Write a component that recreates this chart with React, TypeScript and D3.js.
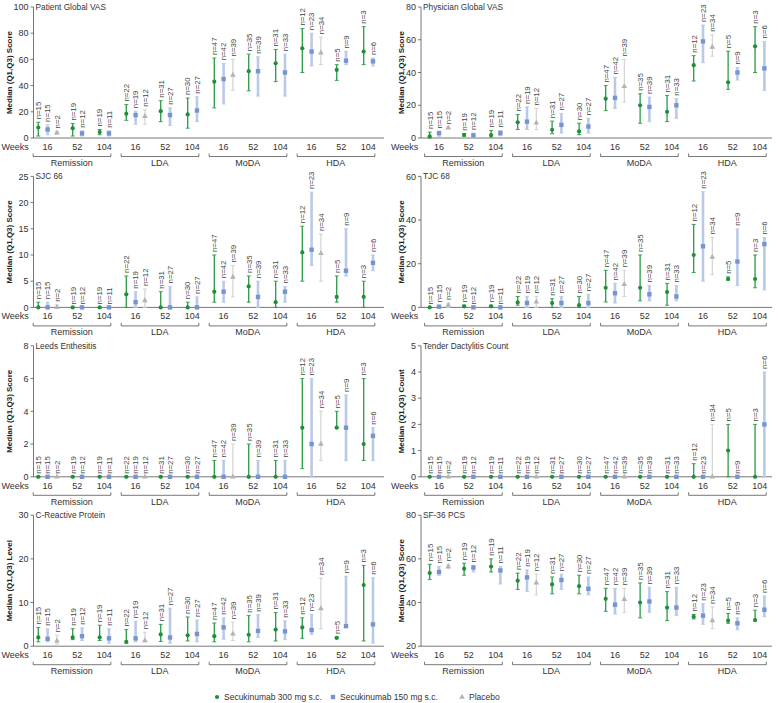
import React from "react";
import * as d3 from "d3";

// categories
const groups = ["Remission", "LDA", "MoDA", "HDA"];
const weeks = ["16", "52", "104"];
// arm of each slot inside a group: wk16 (300, 150, pbo), wk52 (300, 150), wk104 (300, 150)
const slotArms = ["s300", "s150", "pbo", "s300", "s150", "s300", "s150"];
const nCounts = [15, 15, 2, 19, 12, 19, 11, 22, 19, 12, 31, 27, 30, 27, 47, 42, 39, 35, 39, 31, 33, 12, 23, 34, 5, 9, 3, 6];

// Patient Global VAS
const pgaMed = [8, 6.5, 4, 7.5, 3.5, 4.5, 3.5, 18.5, 17.5, 16.5, 20.5, 17.5, 18, 21, 43, 45, 48, 51, 51, 57, 50, 68.5, 66, 65, 52, 59, 66, 58.5];
const pgaQ1 = [1.5, 2.5, 3, 1.5, 1.5, 2.5, 1.5, 13.5, 10.5, 10.5, 12.5, 9.5, 7.5, 12.5, 23, 26, 36.5, 36, 32, 43, 32, 50, 55, 56, 44, 56, 56, 55];
const pgaQ3 = [12, 10, 5, 11, 5.5, 6.5, 5.5, 25.5, 20.5, 21.5, 28.5, 23, 30.5, 31.5, 61, 57, 60, 64, 62, 67.5, 64, 83.5, 80, 77, 56, 66, 85, 61];

// Physician Global VAS
const phgMed = [1, 3, 6.2, 2, 1.6, 1.8, 3, 9.6, 10, 9.2, 5, 8, 4, 7, 24, 24.5, 31.5, 20, 19, 16, 20, 44.5, 59, 55.5, 34, 40, 56, 42.5];
const phgQ1 = [0, 1, 5.8, 1, 0.6, 0.6, 1.4, 5.2, 5.2, 5.2, 2.6, 3, 2, 3, 16.7, 18, 22, 9, 10, 10, 12, 34.8, 46, 50, 29.7, 35.4, 40, 29];
const phgQ3 = [3.6, 4, 6.6, 2.6, 3, 4.6, 4.6, 14.3, 19, 18, 10.3, 15, 9, 12, 32, 37, 48, 27, 25, 26, 24, 50.3, 69, 63, 53, 43, 68, 59];

// SJC 66
const sjcMed = [0, 0, 0, 0, 0, 0, 0, 2.5, 1, 1.3, 0, 0, 0, 0, 3, 3, 5.8, 4, 2, 1, 3, 10.5, 11, 10.3, 2, 7, 2, 8.5];
const sjcQ1 = [0, 0, 0, 0, 0, 0, 0, 0, 0, 0, 0, 0, 0, 0, 1, 1, 2, 1, 0, 0, 1, 5, 8, 5, 1, 6, 0, 7];
const sjcQ3 = [1, 1, 0.5, 0, 0, 0, 0, 6, 3, 3.5, 3, 4, 1, 2, 10, 5, 8, 6, 5, 5, 4, 15.5, 22, 14, 6, 15, 5, 10];

// TJC 68
const tjcMed = [0, 0.3, 1, 0.5, 0, 0.5, 0, 2.3, 2, 2.5, 2, 2, 1, 2, 9, 6.5, 10.5, 9, 6, 7, 5, 24, 28, 23, 13, 21, 13, 29];
const tjcQ1 = [0, 0, 0, 0, 0, 0, 0, 1, 0, 0, 0, 0, 0, 0, 2.5, 2, 5, 3, 3, 1, 3, 16, 12, 15, 12.5, 10, 9, 8];
const tjcQ3 = [0, 1, 2, 1, 0, 1, 0, 5, 5, 5, 4, 5, 5, 6, 17, 11, 17, 24, 10, 11, 10, 38, 53, 32, 14, 36, 24, 32];

// Leeds Enthesitis
const leiMed = [0, 0, 0, 0, 0, 0, 0, 0, 0, 0, 0, 0, 0, 0, 0, 0, 0, 0, 0, 0, 0, 3, 2, 2, 3, 3, 2, 2.5];
const leiQ1 = [0, 0, 0, 0, 0, 0, 0, 0, 0, 0, 0, 0, 0, 0, 0, 0, 0, 0, 0, 0, 0, 0.5, 0, 1, 3, 1, 1, 1];
const leiQ3 = [0, 0, 0, 0, 0, 0, 0, 0, 0, 0, 0, 0, 0, 0, 1, 1, 2, 2, 1, 1, 1, 6, 6, 4, 4, 5, 6, 3];

// Tender Dactylitis Count
const dacMed = [0, 0, 0, 0, 0, 0, 0, 0, 0, 0, 0, 0, 0, 0, 0, 0, 0, 0, 0, 0, 0, 0, 0, 0, 1, 0, 0, 2];
const dacQ1 = [0, 0, 0, 0, 0, 0, 0, 0, 0, 0, 0, 0, 0, 0, 0, 0, 0, 0, 0, 0, 0, 0, 0, 0, 0, 0, 0, 0];
const dacQ3 = [0, 0, 0, 0, 0, 0, 0, 0, 0, 0, 0, 0, 0, 0, 0, 0, 0, 0, 0, 0, 0, 0.5, 0, 2, 2, 0, 2, 4];

// C-Reactive Protein
const crpMed = [2, 1.7, 1.2, 2, 2.3, 2, 1.8, 1, 1.8, 1.3, 2.7, 2, 2.5, 2.8, 2.3, 4.3, 2.8, 2.6, 3.5, 3.8, 3.4, 4.3, 3.7, 8.6, 1.9, 4.6, 14, 5];
const crpQ1 = [1, 1, 0.5, 1.5, 1.3, 1.3, 0.7, 0.7, 1, 1, 1.1, 0.7, 1.2, 1, 1, 1.6, 1.3, 1, 2, 1.2, 1.5, 1.8, 2.7, 4, 1.8, 4.3, 1.2, 0.7];
const crpQ3 = [4.3, 4, 2.5, 4, 4.2, 4.8, 4, 3.8, 5.7, 3.2, 5, 8.7, 6.7, 6, 5.3, 6.5, 5.5, 7, 7.2, 7.7, 5.8, 6.5, 7.3, 15.6, 2.1, 16, 18.5, 15.7];

// SF-36 PCS
const pcsMed = [53.5, 54, 56.5, 55.5, 56, 56.5, 54.7, 50, 51.5, 49, 48.3, 50.3, 47.5, 46.3, 41.7, 39, 41.5, 40, 40.5, 37.7, 37.7, 33.5, 34, 31.7, 31.7, 30.5, 32, 36.7];
const pcsQ1 = [50.5, 52.5, 55.5, 52.5, 54, 54, 48.5, 46, 45, 43.5, 44, 46, 44, 43.5, 36, 34.7, 35.5, 33, 35.5, 31.7, 34, 32.5, 30, 28, 30.5, 27.5, 31.5, 33.5];
const pcsQ3 = [57.5, 56.5, 57.5, 58, 57, 60, 56.5, 53.5, 55, 53, 51.7, 53, 52.5, 51.7, 46.5, 46.5, 46.5, 49, 47, 45, 47, 34.5, 39.5, 38, 35, 33, 36.5, 43];

const panels = [
    {title: "Patient Global VAS", yLabel: "Median (Q1,Q3) Score", domain: [0, 100], ticks: [0, 20, 40, 60, 80, 100], med: pgaMed, q1: pgaQ1, q3: pgaQ3},
    {title: "Physician Global VAS", yLabel: "Median (Q1,Q3) Score", domain: [0, 80], ticks: [0, 20, 40, 60, 80], med: phgMed, q1: phgQ1, q3: phgQ3},
    {title: "SJC 66", yLabel: "Median (Q1,Q3) Score", domain: [0, 25], ticks: [0, 5, 10, 15, 20, 25], med: sjcMed, q1: sjcQ1, q3: sjcQ3},
    {title: "TJC 68", yLabel: "Median (Q1,Q3) Score", domain: [0, 60], ticks: [0, 20, 40, 60], med: tjcMed, q1: tjcQ1, q3: tjcQ3},
    {title: "Leeds Enthesitis", yLabel: "Median (Q1,Q3) Score", domain: [0, 8], ticks: [0, 2, 4, 6, 8], med: leiMed, q1: leiQ1, q3: leiQ3},
    {title: "Tender Dactylitis Count", yLabel: "Median (Q1,Q3) Count", domain: [0, 5], ticks: [0, 1, 2, 3, 4, 5], med: dacMed, q1: dacQ1, q3: dacQ3},
    {title: "C-Reactive Protein", yLabel: "Median (Q1,Q3) Level", domain: [0, 30], ticks: [0, 10, 20, 30], med: crpMed, q1: crpQ1, q3: crpQ3},
    {title: "SF-36 PCS", yLabel: "Median (Q1,Q3) Score", domain: [20, 80], ticks: [20, 40, 60, 80], med: pcsMed, q1: pcsQ1, q3: pcsQ3},
];

const legendItems = [
    {arm: "s300", label: "Secukinumab 300 mg s.c."},
    {arm: "s150", label: "Secukinumab 150 mg s.c."},
    {arm: "pbo", label: "Placebo"},
];

// layout
const W = 778, H = 703;
const FONT = "Liberation Sans, Arial, Helvetica, sans-serif";
const slotPos = [0, 1, 2, 3.7, 4.7, 6.6, 7.6]; // slot centres in units
const weekPos = [1, 4.2, 7.1];
const UNIT = 9.3, GROUP = 88;
const cols = [
    {axisX: 33.5, x0: 38.3, yLabX: 9, weeksX: 1.5, endX: 384},
    {axisX: 421, x0: 429.7, yLabX: 401, weeksX: 391, endX: 772},
];
const rowTop = 7, rowPitch = 169.4, plotH = 131;

const armStyle: any = {
    s300: {bar: "#2a9a45", barW: 1.3, mark: "#1f8f3a"},
    s150: {bar: "#b9c9e8", barW: 2.6, mark: "#7894cf"},
    pbo: {bar: "#cfcfcf", barW: 1.1, mark: "#b3b3b3"},
};

const Marker = ({arm, x, y}: {arm: string, x: number, y: number}) => {
    const c = armStyle[arm].mark;
    if (arm === "s300") return <circle cx={x} cy={y} r={2.1} fill={c}/>;
    if (arm === "s150") return <rect x={x - 2.2} y={y - 2.2} width={4.4} height={4.4} fill={c}/>;
    return <path d={d3.symbol(d3.symbolTriangle, 14)() as string} transform={`translate(${x},${y})`} fill={c}/>;
};

const Panel = ({p, idx}: {p: any, idx: number}) => {
    const col = cols[idx % 2];
    const top = rowTop + Math.floor(idx / 2) * rowPitch;
    const bottom = top + plotH;
    const y = d3.scaleLinear().domain(p.domain).range([bottom, top]);
    const u = d3.scaleLinear().domain([0, 1]).range([col.x0, col.x0 + UNIT]);
    const gx = (g: number, pos: number) => u(pos) + g * GROUP;

    return (
        <g fontFamily={FONT}>
            {/* axes */}
            <line x1={col.axisX} x2={col.axisX} y1={top} y2={bottom} stroke="#555" strokeWidth={0.8}/>
            <line x1={col.axisX} x2={col.endX} y1={bottom} y2={bottom} stroke="#555" strokeWidth={0.8}/>
            {p.ticks.map((t: number) => (
                <g key={t}>
                    <line x1={col.axisX - 3} x2={col.axisX} y1={y(t)} y2={y(t)} stroke="#555" strokeWidth={0.8}/>
                    <text x={col.axisX - 5} y={y(t) + 3.2} fontSize={9} textAnchor="end" fill="#333">{t}</text>
                </g>
            ))}
            <text transform={`translate(${col.yLabX},${(top + bottom) / 2}) rotate(-90)`} fontSize={8} fontWeight="bold"
                  textAnchor="middle" dominantBaseline="central" fill="#222">{p.yLabel}</text>
            <text x={col.axisX + 2} y={top + 3} fontSize={8.3} fill="#333">{p.title}</text>

            {/* x categories */}
            <text x={col.weeksX} y={bottom + 12} fontSize={9} fill="#333">Weeks</text>
            {groups.map((grp, g) => (
                <g key={grp}>
                    {weeks.map((w, wi) => (
                        <text key={w} x={gx(g, weekPos[wi])} y={bottom + 12} fontSize={9} textAnchor="middle" fill="#333">{w}</text>
                    ))}
                    <path d={`M${gx(g, -0.55)},${bottom + 15.5}V${bottom + 18.5}H${gx(g, 7.8)}V${bottom + 15.5}`}
                          fill="none" stroke="#555" strokeWidth={0.8}/>
                    <text x={gx(g, 3.6)} y={bottom + 28} fontSize={9} textAnchor="middle" fill="#333">{grp}</text>
                </g>
            ))}

            {/* error bars */}
            {p.med.map((m: number, i: number) => {
                const g = Math.floor(i / 7), s = i % 7, arm = slotArms[s];
                const x = gx(g, slotPos[s]);
                const st = armStyle[arm];
                const yq1 = y(p.q1[i]), yq3 = y(p.q3[i]);
                return (
                    <g key={i}>
                        <line x1={x} x2={x} y1={yq1} y2={yq3} stroke={st.bar} strokeWidth={st.barW}/>
                        <line x1={x - 2} x2={x + 2} y1={yq1} y2={yq1} stroke={st.bar} strokeWidth={0.9}/>
                        <line x1={x - 2} x2={x + 2} y1={yq3} y2={yq3} stroke={st.bar} strokeWidth={0.9}/>
                        <Marker arm={arm} x={x} y={y(m)}/>
                        <text transform={`translate(${x + 2.8},${yq3 - 3}) rotate(-90)`} fontSize={7.8} fill="#444">{`n=${nCounts[i]}`}</text>
                    </g>
                );
            })}
        </g>
    );
};

const App = () => {
    const legendX = [217, 333, 462];
    return (
        <svg width={W} height={H} style={{display: "block", position: "absolute", left: 0, top: 0, background: "#fff"}}>
            {panels.map((p, i) => <Panel key={p.title} p={p} idx={i}/>)}
            <g fontFamily={FONT}>
                {legendItems.map((it, i) => (
                    <g key={it.arm}>
                        <Marker arm={it.arm} x={legendX[i]} y={697}/>
                        <text x={legendX[i] + 7} y={700} fontSize={8.5} fill="#333">{it.label}</text>
                    </g>
                ))}
            </g>
        </svg>
    );
};

export default App;
